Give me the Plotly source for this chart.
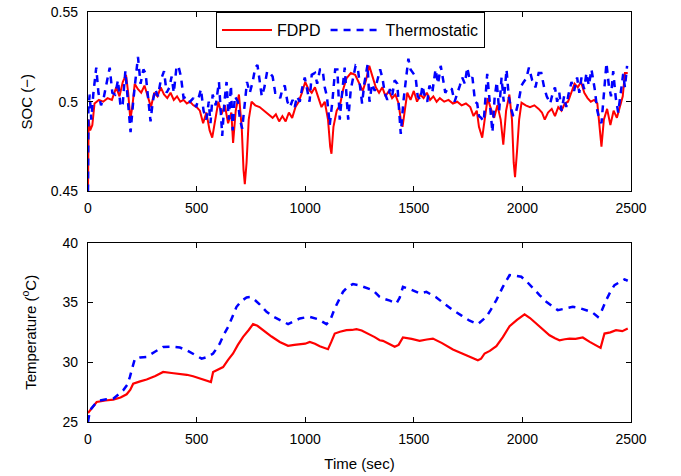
import plotly.graph_objects as go

# ---------------- data ----------------
t_soc_fdpd = [0, 3, 10, 20, 30, 50, 70, 90, 110, 130, 145, 160, 175, 185, 195, 205, 215, 230, 245, 260,
              275, 290, 305, 320, 335, 350, 365, 380, 395, 410, 425, 440, 455, 470, 485, 500, 515, 530,
              545, 560, 572, 585, 600, 615, 630, 645, 660, 668, 680, 695, 708, 716, 722, 730, 740, 753,
              770, 790, 810, 830, 850, 865, 880, 895, 910, 925, 940, 955, 970, 985, 1000, 1015, 1030,
              1045, 1060, 1075, 1090, 1105, 1115, 1121, 1130, 1145, 1160, 1175, 1190, 1210, 1230, 1250,
              1265, 1280, 1295, 1310, 1325, 1340, 1355, 1370, 1385, 1400, 1415, 1430, 1440, 1448, 1458,
              1470, 1485, 1500, 1515, 1530, 1545, 1560, 1575, 1590, 1605, 1620, 1640, 1660, 1680, 1700,
              1720, 1740, 1760, 1775, 1790, 1800, 1815, 1828, 1840, 1855, 1870, 1885, 1900, 1912, 1925,
              1940, 1952, 1960, 1966, 1975, 1985, 1996, 2015, 2035, 2055, 2075, 2090, 2103, 2118, 2135,
              2150, 2165, 2180, 2195, 2210, 2225, 2240, 2255, 2270, 2285, 2300, 2315, 2330, 2345, 2355,
              2364, 2375, 2390, 2405, 2420, 2435, 2450, 2462, 2472, 2485]
soc_fdpd = [0.450, 0.490, 0.484, 0.487, 0.499, 0.501, 0.500, 0.502, 0.501, 0.508, 0.503, 0.511, 0.515,
            0.505, 0.490, 0.498, 0.510, 0.507, 0.505, 0.509, 0.503, 0.497, 0.505, 0.503, 0.508, 0.504,
            0.502, 0.505, 0.501, 0.503, 0.500, 0.501, 0.499, 0.500, 0.498, 0.497, 0.495, 0.488, 0.494,
            0.484, 0.480, 0.490, 0.500, 0.493, 0.498, 0.488, 0.494, 0.477, 0.495, 0.504, 0.485, 0.462,
            0.454, 0.466, 0.490, 0.500, 0.498, 0.497, 0.495, 0.493, 0.491, 0.493, 0.489, 0.492, 0.489,
            0.494, 0.491, 0.497, 0.500, 0.505, 0.511, 0.507, 0.505, 0.508, 0.503, 0.497, 0.500, 0.490,
            0.475, 0.471, 0.486, 0.495, 0.498, 0.507, 0.513, 0.516, 0.515, 0.510, 0.506, 0.512, 0.520,
            0.514, 0.508, 0.505, 0.508, 0.503, 0.506, 0.502, 0.504, 0.499, 0.490, 0.486, 0.495, 0.505,
            0.501, 0.506, 0.500, 0.504, 0.502, 0.505, 0.501, 0.503, 0.500, 0.502, 0.500, 0.501, 0.499,
            0.500, 0.498, 0.499, 0.497, 0.492, 0.495, 0.486, 0.480, 0.492, 0.502, 0.496, 0.491, 0.498,
            0.490, 0.476, 0.495, 0.504, 0.490, 0.466, 0.458, 0.472, 0.490, 0.4995, 0.498, 0.497, 0.498,
            0.496, 0.494, 0.490, 0.494, 0.496, 0.492, 0.497, 0.495, 0.499, 0.500, 0.505, 0.510, 0.508,
            0.511, 0.505, 0.502, 0.500, 0.501, 0.499, 0.488, 0.475, 0.490, 0.496, 0.487, 0.495, 0.491,
            0.498, 0.503, 0.516, 0.516]

t_soc_thermo = [0, 2, 8, 15, 25, 38, 48, 60, 72, 85, 100, 112, 125, 138, 150, 160, 172, 184, 196, 208,
                218, 230, 242, 255, 265, 277, 288, 298, 310, 322, 335, 350, 362, 375, 385, 395, 408, 418,
                428, 440, 455, 470, 485, 498, 510, 520, 532, 545, 556, 564, 574, 588, 603, 612, 618, 628,
                638, 648, 658, 666, 676, 690, 700, 710, 720, 732, 745, 758, 770, 780, 790, 800, 812, 825,
                838, 850, 862, 872, 885, 895, 906, 918, 930, 942, 952, 962, 975, 985, 998, 1010, 1020,
                1030, 1045, 1055, 1068, 1080, 1090, 1100, 1113, 1125, 1138, 1148, 1159, 1170, 1182, 1192,
                1198, 1210, 1222, 1232, 1242, 1252, 1262, 1272, 1287, 1296, 1308, 1320, 1333, 1345, 1356,
                1366, 1378, 1390, 1400, 1412, 1424, 1432, 1440, 1452, 1463, 1475, 1485, 1496, 1508, 1518,
                1530, 1540, 1550, 1562, 1572, 1585, 1600, 1612, 1624, 1634, 1645, 1660, 1675, 1688, 1700,
                1712, 1723, 1735, 1746, 1758, 1770, 1782, 1792, 1800, 1810, 1822, 1838, 1850, 1862, 1872,
                1882, 1893, 1904, 1914, 1927, 1937, 1948, 1958, 1970, 1982, 1996, 2006, 2018, 2030, 2045,
                2060, 2075, 2087, 2100, 2112, 2128, 2140, 2150, 2160, 2170, 2180, 2192, 2202, 2212, 2226,
                2238, 2252, 2262, 2272, 2284, 2295, 2306, 2318, 2333, 2345, 2355, 2364, 2375, 2387, 2398,
                2408, 2418, 2430, 2441, 2452, 2464, 2472, 2482]
soc_thermo = [0.450, 0.497, 0.504, 0.490, 0.505, 0.519, 0.505, 0.498, 0.502, 0.510, 0.519, 0.505, 0.504,
              0.512, 0.497, 0.499, 0.517, 0.500, 0.483, 0.500, 0.512, 0.525, 0.510, 0.518, 0.516, 0.500,
              0.489, 0.500, 0.507, 0.503, 0.512, 0.517, 0.505, 0.508, 0.514, 0.505, 0.520, 0.519, 0.514,
              0.502, 0.503, 0.500, 0.502, 0.497, 0.502, 0.507, 0.495, 0.490, 0.500, 0.488, 0.504, 0.498,
              0.511, 0.495, 0.481, 0.500, 0.511, 0.490, 0.509, 0.484, 0.503, 0.500, 0.490, 0.485, 0.498,
              0.511, 0.505, 0.511, 0.519, 0.5205, 0.512, 0.503, 0.508, 0.517, 0.516, 0.514, 0.505, 0.505,
              0.502, 0.507, 0.509, 0.500, 0.497, 0.501, 0.497, 0.503, 0.500, 0.507, 0.5135, 0.505, 0.500,
              0.515, 0.516, 0.510, 0.518, 0.518, 0.508, 0.503, 0.487, 0.500, 0.518, 0.518, 0.490, 0.505,
              0.519, 0.500, 0.490, 0.507, 0.515, 0.520, 0.519, 0.508, 0.499, 0.510, 0.5206, 0.500, 0.510,
              0.506, 0.512, 0.518, 0.513, 0.505, 0.501, 0.507, 0.503, 0.512, 0.510, 0.497, 0.482, 0.500,
              0.513, 0.524, 0.518, 0.516, 0.514, 0.503, 0.501, 0.509, 0.503, 0.500, 0.509, 0.505, 0.518,
              0.510, 0.520, 0.513, 0.505, 0.508, 0.507, 0.500, 0.504, 0.509, 0.5135, 0.510, 0.519, 0.512,
              0.5135, 0.500, 0.499, 0.492, 0.491, 0.489, 0.5155, 0.500, 0.483, 0.502, 0.511, 0.495, 0.5135,
              0.500, 0.518, 0.503, 0.496, 0.492, 0.494, 0.500, 0.509, 0.511, 0.513, 0.519, 0.512, 0.508,
              0.516, 0.516, 0.508, 0.503, 0.499, 0.505, 0.508, 0.500, 0.505, 0.495, 0.503, 0.497, 0.504,
              0.511, 0.506, 0.5135, 0.505, 0.5135, 0.507, 0.516, 0.509, 0.518, 0.507, 0.495, 0.490, 0.488,
              0.503, 0.5215, 0.509, 0.503, 0.517, 0.502, 0.494, 0.505, 0.5155, 0.508, 0.520]

t_temp_fdpd = [0, 20, 40, 80, 116, 150, 178, 195, 208, 240, 270, 310, 346, 385, 423, 455, 484, 520, 553,
               566, 576, 600, 622, 645, 668, 690, 714, 740, 760, 780, 806, 845, 883, 921, 950, 975, 1000,
               1021, 1045, 1067, 1090, 1105, 1120, 1136, 1160, 1190, 1215, 1236, 1260, 1290, 1320, 1343,
               1358, 1385, 1412, 1430, 1450, 1490, 1527, 1560, 1588, 1630, 1680, 1720, 1757, 1795, 1810,
               1826, 1850, 1880, 1910, 1941, 1975, 2010, 2035, 2064, 2095, 2125, 2150, 2171, 2195, 2217,
               2245, 2278, 2310, 2347, 2360, 2378, 2405, 2431, 2460, 2485]
temp_fdpd = [25.75, 26.20, 26.67, 26.80, 26.87, 27.05, 27.32, 27.70, 28.20, 28.40, 28.55, 28.85, 29.19,
             29.10, 29.05, 28.95, 28.83, 28.62, 28.40, 28.35, 29.19, 29.40, 29.60, 30.20, 30.73, 31.45,
             32.12, 32.70, 33.19, 33.05, 32.68, 32.15, 31.70, 31.37, 31.45, 31.50, 31.55, 31.70, 31.55,
             31.34, 31.15, 31.09, 31.70, 32.40, 32.55, 32.68, 32.70, 32.77, 32.65, 32.40, 32.10, 31.84,
             31.79, 31.55, 31.29, 31.45, 32.07, 31.95, 31.79, 31.90, 31.98, 31.60, 31.06, 30.75, 30.45,
             30.17, 30.30, 30.73, 30.95, 31.34, 32.10, 33.02, 33.55, 34.00, 33.70, 33.24, 32.75, 32.26,
             32.00, 31.84, 31.92, 31.98, 31.95, 32.07, 31.70, 31.34, 31.20, 32.40, 32.50, 32.68, 32.60,
             32.82]

t_temp_thermo = [0, 3, 9, 30, 55, 85, 116, 140, 162, 180, 193, 205, 216, 240, 270, 310, 346, 385, 423,
                 455, 484, 505, 523, 550, 576, 590, 607, 625, 645, 665, 684, 705, 730, 745, 760, 790, 822,
                 850, 883, 900, 921, 950, 975, 1000, 1021, 1060, 1098, 1115, 1136, 1155, 1174, 1195, 1220,
                 1245, 1266, 1290, 1312, 1343, 1358, 1390, 1420, 1435, 1450, 1490, 1527, 1558, 1604, 1640,
                 1680, 1720, 1757, 1795, 1834, 1855, 1880, 1910, 1941, 1965, 1995, 2020, 2048, 2080, 2110,
                 2140, 2163, 2200, 2232, 2260, 2293, 2320, 2347, 2365, 2386, 2405, 2424, 2450, 2470, 2485]
temp_thermo = [25.00, 25.50, 25.98, 26.45, 26.80, 26.90, 26.95, 27.30, 27.65, 28.10, 28.77, 29.60, 30.30,
               30.40, 30.45, 30.90, 31.28, 31.30, 31.23, 31.00, 30.73, 30.50, 30.30, 30.45, 30.73, 31.10,
               31.57, 32.30, 32.96, 33.80, 34.64, 35.10, 35.42, 35.45, 35.34, 34.85, 34.22, 33.85, 33.52,
               33.35, 33.19, 33.45, 33.66, 33.75, 33.80, 33.60, 33.19, 33.50, 34.50, 35.20, 35.89, 36.30,
               36.54, 36.45, 36.31, 36.20, 36.03, 35.47, 35.34, 35.15, 34.92, 35.40, 36.31, 36.05, 35.76,
               35.89, 35.42, 34.90, 34.36, 33.90, 33.47, 33.19, 33.80, 34.40, 35.20, 36.30, 37.29, 37.25,
               37.15, 36.75, 36.18, 35.60, 35.06, 34.65, 34.36, 34.50, 34.64, 34.55, 34.36, 34.20, 33.80,
               34.30, 35.20, 35.90, 36.45, 36.75, 36.93, 36.82]

soc_ticks = [0.45, 0.5, 0.55]
soc_ticktext = ["0.45", "0.5", "0.55"]
temp_ticks = [25, 30, 35, 40]
time_ticks = [0, 500, 1000, 1500, 2000, 2500]

RED = "#ff0000"
BLUE = "#0000ff"
FONT = "Liberation Sans, Arial, sans-serif"

fig = go.Figure()
fig.add_trace(go.Scatter(x=t_soc_fdpd, y=soc_fdpd, mode="lines", name="FDPD",
                         line=dict(color=RED, width=2), xaxis="x", yaxis="y"))
fig.add_trace(go.Scatter(x=t_soc_thermo, y=soc_thermo, mode="lines", name="Thermostatic",
                         line=dict(color=BLUE, width=2.5, dash="7px,6px"), xaxis="x", yaxis="y"))
fig.add_trace(go.Scatter(x=t_temp_fdpd, y=temp_fdpd, mode="lines", name="FDPD", showlegend=False,
                         line=dict(color=RED, width=2.2), xaxis="x2", yaxis="y2"))
fig.add_trace(go.Scatter(x=t_temp_thermo, y=temp_thermo, mode="lines", name="Thermostatic",
                         showlegend=False,
                         line=dict(color=BLUE, width=2.5, dash="7px,6px"), xaxis="x2", yaxis="y2"))

axis_common = dict(showline=True, linecolor="black", linewidth=1.3, mirror="ticks",
                   ticks="inside", ticklen=5, tickcolor="black", tickwidth=1,
                   showgrid=False, zeroline=False,
                   tickfont=dict(family=FONT, size=14, color="black"))

fig.update_layout(
    width=681, height=476,
    paper_bgcolor="white", plot_bgcolor="white",
    margin=dict(l=88, r=50, t=12, b=54, autoexpand=False),
    font=dict(family=FONT, size=14, color="black"),
    showlegend=True,
    legend=dict(orientation="h", x=(216 - 88) / 543, y=1.0, xanchor="left", yanchor="top",
                bgcolor="white", bordercolor="black", borderwidth=1,
                font=dict(family=FONT, size=16, color="black"),
                itemwidth=50, tracegroupgap=0),
    xaxis=dict(domain=[0, 1], range=[0, 2500], tickvals=time_ticks, anchor="y",
               ticklabelstandoff=4, **axis_common),
    yaxis=dict(domain=[0.5624, 1], range=[0.45, 0.55], tickvals=soc_ticks, ticktext=soc_ticktext,
               anchor="x", ticklabelstandoff=6,
               title=dict(text="SOC (\u2212)", standoff=14, font=dict(family=FONT, size=15)),
               **axis_common),
    xaxis2=dict(domain=[0, 1], range=[0, 2500], tickvals=time_ticks, anchor="y2",
                ticklabelstandoff=4,
                title=dict(text="Time (sec)", standoff=12, font=dict(family=FONT, size=15)),
                **axis_common),
    yaxis2=dict(domain=[0, 0.4373], range=[25, 40], tickvals=temp_ticks, anchor="x2",
                ticklabelstandoff=6,
                title=dict(text="Temperature (<sup>o</sup>C)", standoff=22,
                           font=dict(family=FONT, size=15)),
                **axis_common),
)

fig.write_html("out.html", config={"displayModeBar": False},
               post_script="document.body.style.margin='0';")
